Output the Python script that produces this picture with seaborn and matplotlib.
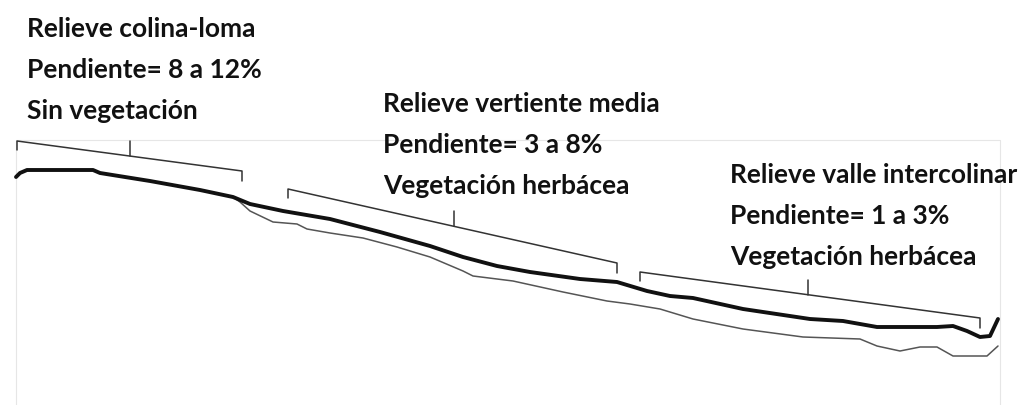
import matplotlib
matplotlib.use("Agg")
import matplotlib.pyplot as plt
import pandas as pd
import seaborn as sns

# profile (x = distance px, y = height px, downwards)
top_x = [16, 20, 27, 93, 100, 150, 200, 233, 250, 283, 330, 380, 430, 463, 497,
         530, 580, 617, 647, 670, 693, 743, 810, 843, 877, 937, 953, 967, 980, 990, 998]
top_y = [178, 174, 171, 171, 174, 182, 191, 198, 205, 212, 220, 233, 247, 258, 267,
         273, 280, 283, 292, 297, 299, 310, 320, 322, 328, 328, 327, 332, 338, 337, 320]

low_x = [233, 240, 250, 273, 297, 307, 330, 363, 397, 430, 463, 473, 513, 563, 607,
         630, 660, 693, 743, 803, 860, 877, 900, 920, 937, 953, 987, 998]
low_y = [198, 203, 212, 223, 225, 230, 234, 239, 248, 258, 272, 277, 282, 293, 302,
         305, 310, 320, 330, 338, 340, 347, 352, 348, 348, 357, 357, 347]

# brackets: left end, right end, middle tick
br_x0 = [17, 288, 640]
br_y0 = [142, 190, 273]
br_x1 = [242, 617, 980]
br_y1 = [172, 264, 319]
br_mid = [130, 454, 808]

labels = [
    ["Relieve colina-loma", "Pendiente= 8 a 12%", "Sin vegetación"],
    ["Relieve vertiente media", "Pendiente= 3 a 8%", "Vegetación herbácea"],
    ["Relieve valle intercolinar", "Pendiente= 1 a 3%", "Vegetación herbácea"],
]
lab_x = [27, 383, 730]
lab_y = [37, 112, 183]

top = pd.DataFrame({"x": top_x, "y": top_y})
low = pd.DataFrame({"x": low_x, "y": low_y})

sns.set_style("white")
plt.rcParams["font.family"] = ["Lato", "DejaVu Sans"]

fig = plt.figure(figsize=(10.18, 4.06), dpi=100)
ax = fig.add_axes([0, 0, 1, 1])
ax.set_xlim(0, 1018)
ax.set_ylim(406, 0)
ax.axis("off")

# faint frame
ax.plot([16, 16, 1000, 1000], [406, 141, 141, 406], color="#e6e6e6", lw=0.8)

sns.lineplot(data=low, x="x", y="y", sort=False, color="#555555", lw=1.1, ax=ax)
sns.lineplot(data=top, x="x", y="y", sort=False, color="#111111", lw=2.8, ax=ax)

for x0, y0, x1, y1, xm in zip(br_x0, br_y0, br_x1, br_y1, br_mid):
    ym = y0 + (y1 - y0) * (xm - x0) / (x1 - x0)
    ax.plot([x0, x0, x1, x1], [y0 + 9, y0, y1, y1 + 10], color="#333333", lw=1.1)
    ax.plot([xm, xm], [ym, ym - 15], color="#333333", lw=1.1)

for lines, x, y in zip(labels, lab_x, lab_y):
    for i, t in enumerate(lines):
        ax.text(x, y + i * 41, t, fontsize=19, fontweight="bold",
                color="#111111", va="baseline", ha="left")

fig.savefig("out.png", dpi=100, facecolor="white")
